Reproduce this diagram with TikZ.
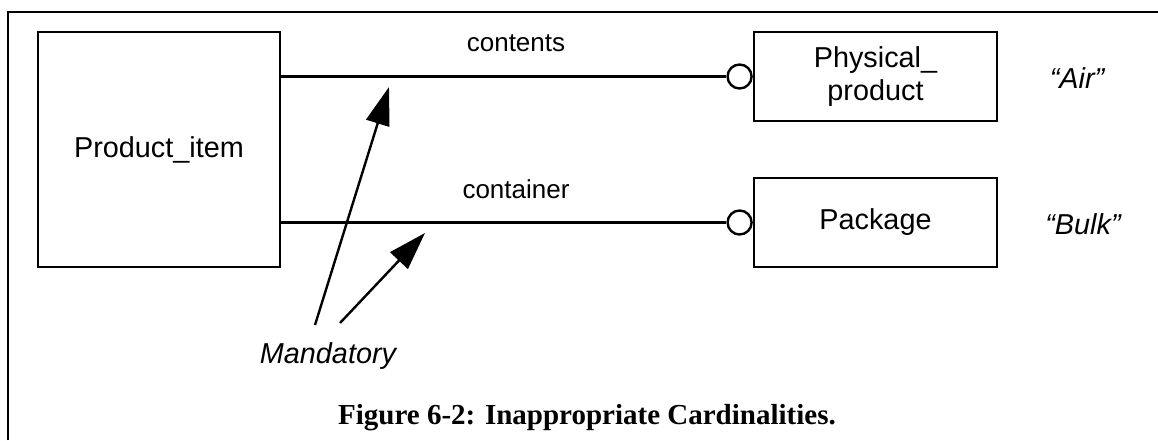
\documentclass[tikz,border=0pt]{standalone}
\usepackage{fontspec}
\setmainfont{Liberation Sans}
\newfontfamily\capfont{Liberation Serif}
\usetikzlibrary{arrows.meta}
\tikzset{
  entity/.style={draw,line width=1.2pt,inner sep=0pt,align=center,
    font=\fontsize{14.4}{16.5}\selectfont},
  opt/.style={draw,circle,line width=1.2pt,fill=white,inner sep=0pt,minimum size=12pt},
  role/.style={font=\fontsize{13}{15}\selectfont},
  note/.style={font=\fontsize{14.4}{16.5}\selectfont\itshape},
  rel/.style={line width=1.2pt},
  pointer/.style={line width=1.2pt,-{Triangle[length=19pt,width=12pt]}}
}
\begin{document}
\begin{tikzpicture}[x=0.5pt,y=-0.5pt]
  \useasboundingbox (0,0) rectangle (1158,440);
  \draw[line width=1.2pt] (8,440) -- (8,12) -- (1158,12);
  % entities
  \node[entity,minimum width=121pt,minimum height=117.5pt] (item) at (159,149.5) {Product\_item};
  \node[entity,minimum width=121.5pt,minimum height=44.5pt] (phys) at (875.5,76.5) {Physical\_\\product};
  \node[entity,minimum width=121.5pt,minimum height=44.5pt] (pack) at (875.5,222.5) {Package};
  \node[opt,anchor=east] (o1) at (phys.west) {};
  \node[opt,anchor=east] (o2) at (pack.west) {};
  % relationships
  \begin{scope}[rel]
    \draw (item.east |- o1.west) -- (o1.west);
    \draw (item.east |- o2.west) -- (o2.west);
  \end{scope}
  \node[role] (r1) at (516,43) {contents};
  \node[role] (r2) at (516,189) {container};
  \node[note] (air) at (1077,78) {“Air”};
  \node[note] (bulk) at (1083,224) {“Bulk”};
  \node[note] (mand) at (328,356) {Mandatory};
  \coordinate (m1) at (315,325);
  \coordinate (m2) at (340,323);
  \coordinate (t1) at (389,87);
  \coordinate (t2) at (425,233);
  \draw[pointer] (m1) -- (t1);
  \draw[pointer] (m2) -- (t2);
  \node[font=\capfont\bfseries\fontsize{14.5}{17}\selectfont] (cap) at (587,418)
    {Figure 6-2: Inappropriate Cardinalities.};
\end{tikzpicture}
\end{document}
